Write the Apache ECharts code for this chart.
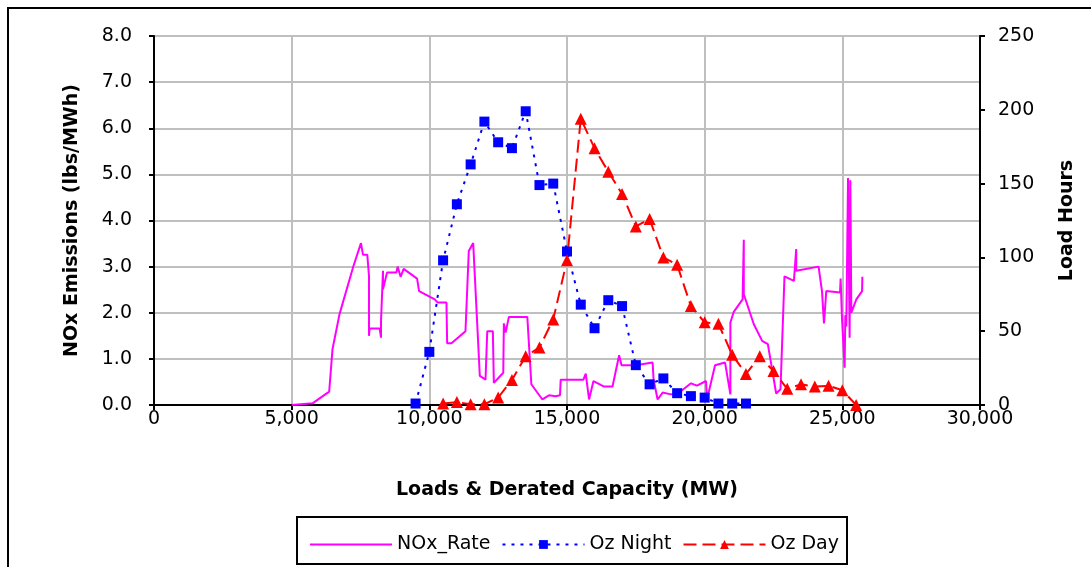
<!DOCTYPE html>
<html>
<head>
<meta charset="utf-8">
<script src="https://cdn.jsdelivr.net/npm/echarts@6/dist/echarts.min.js"></script>
<style>
  html, body { margin: 0; padding: 0; background: #fff; }
  #myChart { width: 1091px; height: 567px; }
</style>
</head>
<body>
<div id="myChart"></div>
<script>
// NOx_Rate trace (lbs/MWh) against load (MW)
const noxX = [5005, 5770, 6363, 6483, 6738, 7247, 7517, 7589, 7746, 7808, 7808, 7830, 8194, 8245, 8245, 8317, 8317, 8317,
  8463, 8802, 8849, 8958, 9067, 9555, 9628, 10196, 10305, 10622, 10647, 10804, 11313, 11433, 11593, 11834, 12041, 12103,
  12307, 12343, 12685, 12707, 12769, 12889, 13559, 13705, 14105, 14345, 14589, 14746, 14771, 15597, 15681, 15801, 15961,
  16347, 16653, 16893, 16981, 17501, 18109, 18145, 18291, 18473, 18775, 19077, 19503, 19721, 20049, 20086, 20377, 20741,
  20934, 20934, 21057, 21378, 21421, 21421, 21785, 22088, 22295, 22597, 22754, 22899, 23241, 23325, 23325, 24137, 24261,
  24333, 24417, 24916, 24938, 24989, 25083, 25109, 25145, 25207, 25265, 25291, 25327, 25509, 25717, 25728];
const noxY = [0.0, 0.04, 0.29, 1.21, 1.97, 3.02, 3.51, 3.26, 3.26, 2.80, 1.50, 1.66, 1.66, 1.46, 1.82, 1.82, 2.91, 2.51,
  2.87, 2.87, 3.0, 2.78, 2.95, 2.74, 2.47, 2.29, 2.22, 2.22, 1.34, 1.34, 1.60, 3.34, 3.51, 0.63, 0.55, 1.60,
  1.60, 0.48, 0.70, 1.77, 1.57, 1.91, 1.91, 0.45, 0.12, 0.21, 0.19, 0.21, 0.55, 0.55, 0.68, 0.12, 0.52,
  0.40, 0.40, 1.08, 0.86, 0.86, 0.92, 0.55, 0.12, 0.27, 0.23, 0.27, 0.47, 0.42, 0.52, 0.12, 0.86, 0.92,
  0.23, 1.79, 2.02, 2.29, 3.58, 2.40, 1.75, 1.39, 1.32, 0.25, 0.34, 2.79, 2.69, 3.38, 2.91, 3.0, 2.47,
  1.77, 2.47, 2.44, 2.74, 1.86, 0.81, 1.95, 1.70, 4.92, 1.46, 4.87, 2.00, 2.29, 2.47, 2.78];

// load hours, right axis
const nightX = [9500, 10000, 10500, 11000, 11500, 12000, 12500, 13000, 13500, 14000, 14500, 15000, 15500,
  16000, 16500, 17000, 17500, 18000, 18500, 19000, 19500, 20000, 20500, 21000, 21500];
const nightY = [1, 36, 98, 136, 163, 192, 178, 174, 199, 149, 150, 104, 68,
  52, 71, 67, 27, 14, 18, 8, 6, 5, 1, 1, 1];

const dayX = [10500, 11000, 11500, 12000, 12500, 13000, 13500, 14000, 14500, 15000, 15500, 16000, 16500,
  17000, 17500, 18000, 18500, 19000, 19500, 20000, 20500, 21000, 21500, 22000, 22500, 23000, 23500,
  24000, 24500, 25000, 25500];
const dayY = [1, 2, 0.5, 0.5, 5, 17, 33, 39, 58, 98, 194, 174, 158,
  143, 121, 126, 100, 95, 67, 56, 55, 34, 21, 33, 23, 11, 14,
  12.5, 13, 10, 0];

const FONT = "DejaVu Sans";

function pairs(xs, ys) {
  return xs.map((x, i) => [x, ys[i]]);
}

const chartData = {
  animation: false,
  backgroundColor: "#fff",
  textStyle: { fontFamily: FONT },
  graphic: [
    {
      type: "rect",
      shape: { x: 8, y: 8, width: 1100, height: 600 },
      style: { fill: "none", stroke: "#000", lineWidth: 2 },
      silent: true
    },
    {
      type: "rect",
      shape: { x: 297, y: 517, width: 550, height: 47 },
      style: { fill: "#fff", stroke: "#000", lineWidth: 2 },
      silent: true
    }
  ],
  grid: {
    left: 154,
    right: 111,
    top: 36,
    bottom: 162,
    show: true,
    borderColor: "#000",
    borderWidth: 2
  },
  legend: {
    data: [
      { name: "NOx_Rate", itemStyle: { opacity: 0 } },
      { name: "Oz Night" },
      { name: "Oz Day" }
    ],
    left: 304,
    top: 530,
    itemWidth: 82,
    itemHeight: 11,
    itemGap: 11,
    textStyle: { color: "#000", fontSize: 19, fontFamily: FONT },
    z: 10
  },
  xAxis: {
    type: "value",
    min: 0,
    max: 30000,
    interval: 5000,
    name: "Loads & Derated Capacity (MW)",
    nameLocation: "middle",
    nameGap: 76,
    nameTextStyle: { fontSize: 19, fontWeight: "bold", color: "#000", fontFamily: FONT },
    axisLine: { lineStyle: { color: "#000", width: 2 } },
    axisTick: { show: true, length: 5, lineStyle: { color: "#000", width: 2 } },
    axisLabel: {
      color: "#000",
      fontSize: 19,
      margin: 5,
      formatter: v => v.toLocaleString("en-US")
    },
    splitLine: { show: true, lineStyle: { color: "#bfbfbf", width: 2 } }
  },
  yAxis: [
    {
      type: "value",
      min: 0,
      max: 8,
      interval: 1,
      name: "NOx Emissions (lbs/MWh)",
      nameLocation: "middle",
      nameGap: 72,
      nameTextStyle: { fontSize: 19, fontWeight: "bold", color: "#000", fontFamily: FONT },
      axisLine: { show: true, lineStyle: { color: "#000", width: 2 } },
      axisTick: { show: true, length: 5, lineStyle: { color: "#000", width: 2 } },
      axisLabel: { color: "#000", fontSize: 19, margin: 22, formatter: v => v.toFixed(1) },
      splitLine: { show: true, lineStyle: { color: "#bfbfbf", width: 2 } }
    },
    {
      type: "value",
      min: 0,
      max: 250,
      interval: 50,
      name: "Load Hours",
      nameLocation: "middle",
      nameGap: 78,
      nameTextStyle: { fontSize: 19, fontWeight: "bold", color: "#000", fontFamily: FONT },
      axisLine: { show: true, lineStyle: { color: "#000", width: 2 } },
      axisTick: { show: true, length: 5, lineStyle: { color: "#000", width: 2 } },
      axisLabel: { color: "#000", fontSize: 19, margin: 18 },
      splitLine: { show: false }
    }
  ],
  series: [
    {
      name: "NOx_Rate",
      type: "line",
      yAxisIndex: 0,
      showSymbol: false,
      symbol: "none",
      color: "#ff00ff",
      lineStyle: { color: "#ff00ff", width: 2 },
      data: pairs(noxX, noxY)
    },
    {
      name: "Oz Night",
      type: "line",
      yAxisIndex: 1,
      symbol: "rect",
      symbolSize: 10,
      color: "#0000ff",
      itemStyle: { color: "#0000ff" },
      lineStyle: { color: "#0000ff", width: 2, type: [3, 6] },
      data: pairs(nightX, nightY)
    },
    {
      name: "Oz Day",
      type: "line",
      yAxisIndex: 1,
      symbol: "triangle",
      symbolSize: 12,
      color: "#ff0000",
      itemStyle: { color: "#ff0000" },
      lineStyle: { color: "#ff0000", width: 2, type: [13, 6] },
      data: pairs(dayX, dayY)
    }
  ]
};

let myChart = echarts.init(document.getElementById("myChart"));
myChart.setOption(chartData);
</script>
</body>
</html>
